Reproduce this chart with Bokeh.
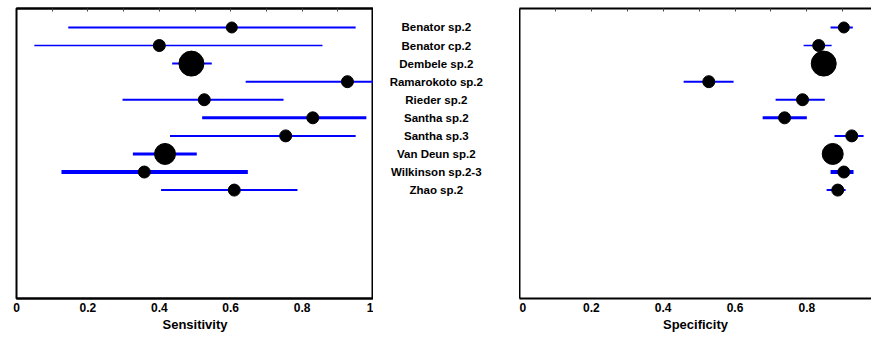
from bokeh.plotting import figure
from bokeh.models import Range1d, LinearAxis, FixedTicker, ColumnDataSource
from bokeh.layouts import row
from bokeh.core.properties import value
from bokeh.embed import file_html
from bokeh.resources import INLINE

studies = ["Benator sp.2", "Benator cp.2", "Dembele sp.2", "Ramarokoto sp.2", "Rieder sp.2",
           "Santha sp.2", "Santha sp.3", "Van Deun sp.2", "Wilkinson sp.2-3", "Zhao sp.2"]

sens_est = [0.603, 0.400, 0.490, 0.927, 0.526, 0.830, 0.754, 0.416, 0.358, 0.610]
sens_lo = [0.145, 0.050, 0.436, 0.642, 0.297, 0.520, 0.430, 0.326, 0.126, 0.405]
sens_hi = [0.950, 0.857, 0.547, 1.000, 0.748, 0.980, 0.950, 0.505, 0.648, 0.787]

spec_est = [0.903, 0.833, 0.847, 0.527, 0.788, 0.738, 0.925, 0.872, 0.903, 0.886]
spec_lo = [0.866, 0.791, 0.838, 0.457, 0.713, 0.677, 0.877, 0.864, 0.866, 0.855]
spec_hi = [0.928, 0.869, 0.852, 0.596, 0.850, 0.800, 0.958, 0.881, 0.930, 0.908]

weights = [11, 12, 25, 12, 12, 12, 12, 21, 12, 12]          # marker size (study weight)
ci_width = [2, 1.5, 2, 2, 2, 3, 2, 3, 4, 2]                   # CI line thickness

tick_vals = [0, 0.2, 0.4, 0.6, 0.8, 1]
tick_labels = ["0", "0.2", "0.4", "0.6", "0.8", "1"]
minor_vals = [0.1, 0.2, 0.3, 0.4, 0.5, 0.6, 0.7, 0.8, 0.9]

FONT = "Liberation Sans"
FRAME_H = 290
TOP = 8
BOTTOM = 37
YR = (15.0, -1.05)

pos = list(range(len(studies)))


def top_axis(p, alpha=1.0):
    top = LinearAxis(ticker=FixedTicker(ticks=[], minor_ticks=minor_vals), major_tick_in=0,
                     major_tick_out=0, minor_tick_in=3, minor_tick_out=0,
                     major_label_standoff=0, axis_line_width=2, axis_line_color="black",
                     axis_line_alpha=alpha, minor_tick_line_color="#444444",
                     minor_tick_line_alpha=alpha, minor_tick_line_width=1)
    p.add_layout(top, "above")


def bottom_axis(p, xlabel):
    bot = LinearAxis(ticker=FixedTicker(ticks=tick_vals), major_tick_in=0, major_tick_out=0,
                     minor_tick_in=0, minor_tick_out=0,
                     major_label_overrides=dict(zip(tick_vals, tick_labels)),
                     major_label_text_font=FONT, major_label_text_font_size="12px",
                     major_label_text_font_style="bold", major_label_text_color="black",
                     major_label_standoff=4, axis_label=xlabel, axis_label_text_font=FONT,
                     axis_label_text_font_size="13px", axis_label_text_font_style="bold",
                     axis_label_text_color="black",
                     axis_label_standoff=2, axis_line_width=2, axis_line_color="black")
    p.add_layout(bot, "below")


def panel(est, lo, hi, frame_w, xend, xlabel, border_left, outline):
    src = ColumnDataSource(dict(y=pos, est=est, lo=lo, hi=hi, w=weights, lw=ci_width))
    p = figure(frame_width=frame_w, frame_height=FRAME_H, x_range=Range1d(0, xend),
               y_range=Range1d(*YR), output_backend="svg", toolbar_location=None,
               x_axis_location=None, y_axis_location=None, min_border_left=border_left,
               min_border_right=0, min_border_top=TOP, min_border_bottom=BOTTOM)
    p.xgrid.visible = False
    p.ygrid.visible = False
    p.background_fill_color = "white"
    p.border_fill_color = "white"
    if outline:
        p.outline_line_color = "black"
        p.outline_line_width = 2
    else:
        p.outline_line_color = None
        lft = LinearAxis(ticker=FixedTicker(ticks=[]), major_tick_in=0, major_tick_out=0,
                         minor_tick_in=0, minor_tick_out=0, major_label_standoff=0,
                         axis_line_width=2, axis_line_color="black")
        p.add_layout(lft, "left")
    top_axis(p)
    bottom_axis(p, xlabel)
    p.segment(x0="lo", y0="y", x1="hi", y1="y", source=src, line_color="#0000ff", line_width="lw")
    p.scatter(x="est", y="y", size="w", source=src, fill_color="black", line_color="black")
    return p


left = panel(sens_est, sens_lo, sens_hi, 357, 1.0, "Sensitivity", 16, True)
right = panel(spec_est, spec_lo, spec_hi, 352, 0.98, "Specificity", 0, False)

mid_src = ColumnDataSource(dict(y=pos, name=studies))
mid = figure(frame_width=146, frame_height=FRAME_H, x_range=Range1d(0, 1),
             y_range=Range1d(*YR), output_backend="svg", toolbar_location=None,
             x_axis_location=None, y_axis_location=None, min_border_left=0, min_border_right=0,
             min_border_top=TOP, min_border_bottom=BOTTOM)
mid.outline_line_color = None
mid.xgrid.visible = False
mid.ygrid.visible = False
top_axis(mid, alpha=0.0)
mid.text(x=0.43, y="y", text="name", source=mid_src, text_align="center", text_baseline="middle",
         text_font=value(FONT), text_font_size="11.5px", text_font_style="bold", text_color="black")

layout = row(left, mid, right)
open("out.html", "w").write(file_html(layout, INLINE))
